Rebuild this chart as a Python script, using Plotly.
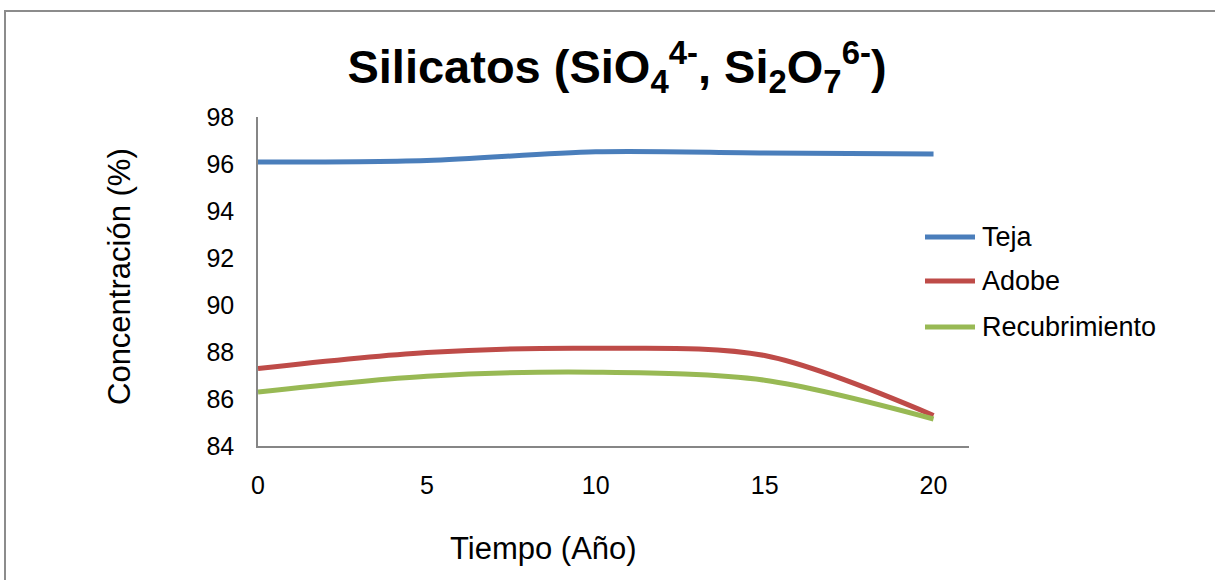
import plotly.graph_objects as go

years = [0, 5, 10, 15, 20]
teja = [96.08, 96.15, 96.52, 96.47, 96.43]
adobe = [87.3, 87.98, 88.16, 87.85, 85.3]
recubrimiento = [86.3, 86.97, 87.14, 86.8, 85.15]

series_names = ["Teja", "Adobe", "Recubrimiento"]
series_values = [teja, adobe, recubrimiento]
series_colors = ["#4A7EBB", "#BE4B48", "#98B954"]

x_ticks = [0, 5, 10, 15, 20]
y_ticks = [84, 86, 88, 90, 92, 94, 96, 98]

FONT = "Liberation Sans, Arial, sans-serif"

W, H = 1215, 580
L, R, T, B = 258, 969, 117, 446

fig = go.Figure()
for name, vals, col in zip(series_names, series_values, series_colors):
    fig.add_trace(go.Scatter(
        x=years, y=vals, name=name, mode="lines", showlegend=False,
        line=dict(color=col, width=5, shape="spline", smoothing=0.9),
    ))

def px_x(p):
    return (p - L) / (R - L)

def px_y(p):
    return (B - p) / (B - T)

title_text = ("<b>Silicatos (SiO<sub>4</sub><sup>4-</sup>, "
              "Si<sub>2</sub>O<sub>7</sub><sup>6-</sup>)</b>")

fig.update_layout(
    width=W, height=H,
    margin=dict(l=L, r=W - R, t=T, b=H - B),
    paper_bgcolor="white", plot_bgcolor="white",
    font=dict(family=FONT, color="black"),
    title=dict(
        text=title_text,
        font=dict(size=47, family=FONT, color="black"),
        x=617 / W, xanchor="center", y=1 - 67 / H, yanchor="middle",
    ),
    xaxis=dict(
        range=[0, 21.05], tickvals=x_ticks, ticktext=[str(v) for v in x_ticks],
        showgrid=False, zeroline=False, showline=True, linecolor="#868686", linewidth=1.5,
        ticks="", tickfont=dict(size=25, family=FONT), ticklabelstandoff=16,
    ),
    yaxis=dict(
        range=[84, 98], tickvals=y_ticks, ticktext=[str(v) for v in y_ticks],
        showgrid=False, zeroline=False, showline=True, linecolor="#868686", linewidth=1.5,
        ticks="", tickfont=dict(size=25, family=FONT), ticklabelstandoff=17,
    ),
    showlegend=False,
)

# legend drawn as line samples + labels
legend_y = [237, 281, 327]
for name, col, ly in zip(series_names, series_colors, legend_y):
    fig.add_shape(
        type="line", xref="paper", yref="paper",
        x0=px_x(925), x1=px_x(975), y0=px_y(ly), y1=px_y(ly),
        line=dict(color=col, width=5),
    )
    fig.add_annotation(
        text=name, xref="paper", yref="paper", x=px_x(980), y=px_y(ly),
        showarrow=False, xanchor="left", yanchor="middle",
        font=dict(size=27, family=FONT, color="black"),
    )

fig.add_annotation(
    text="Tiempo (Año)", xref="paper", yref="paper",
    x=px_x(543), y=px_y(548), showarrow=False,
    font=dict(size=31, family=FONT, color="black"), xanchor="center", yanchor="middle",
)
fig.add_annotation(
    text="Concentración (%)", xref="paper", yref="paper",
    x=px_x(119), y=px_y(277), showarrow=False, textangle=-90,
    font=dict(size=31, family=FONT, color="black"), xanchor="center", yanchor="middle",
)

fig.add_shape(
    type="rect", xref="paper", yref="paper",
    x0=px_x(5), x1=px_x(1225), y0=px_y(11), y1=px_y(600),
    line=dict(color="#8C8C8C", width=2), fillcolor="rgba(0,0,0,0)", layer="below",
)

fig.write_html("out.html", config={"displayModeBar": False},
               post_script="document.body.style.margin='0';document.body.style.padding='0';")
